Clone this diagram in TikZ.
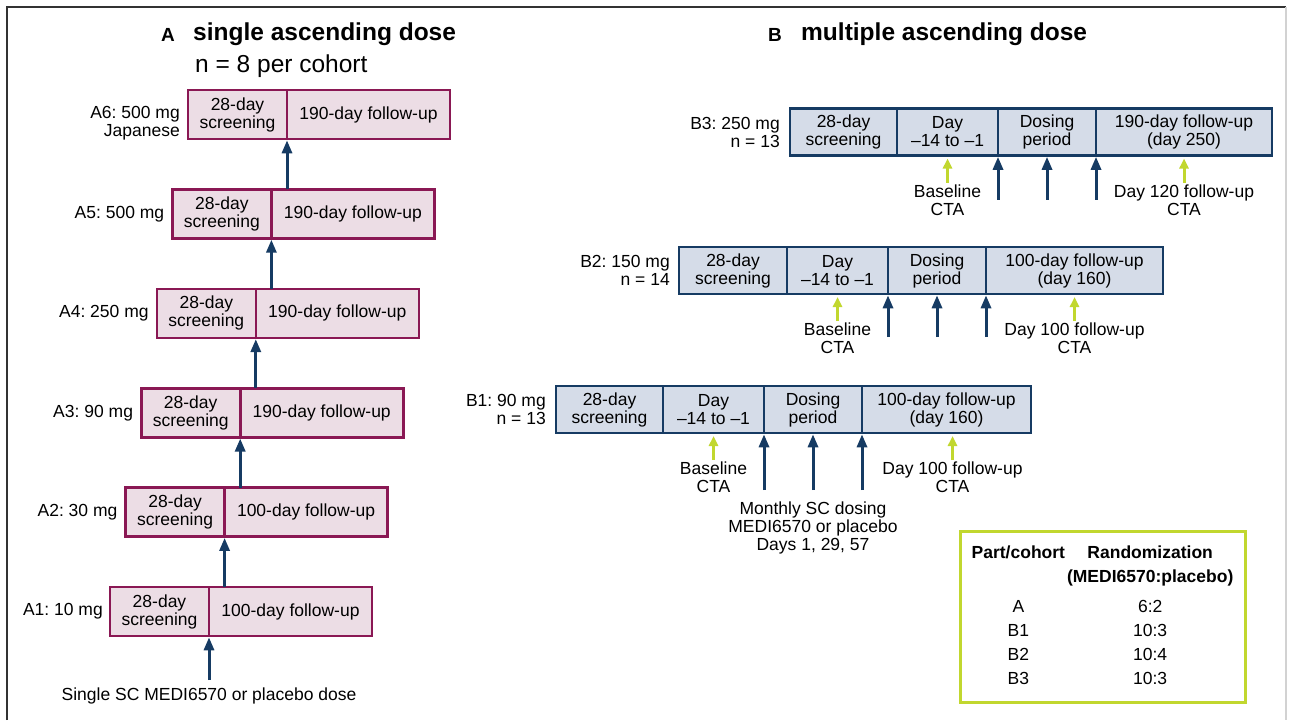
\documentclass[tikz,border=0pt]{standalone}
\usepackage{fontspec}
\setmainfont{Liberation Sans}
\usetikzlibrary{arrows.meta,positioning}
\frenchspacing

\definecolor{plum}{RGB}{138,24,84}
\definecolor{plumfill}{RGB}{236,221,229}
\definecolor{navy}{RGB}{22,59,99}
\definecolor{navyfill}{RGB}{213,220,232}
\definecolor{lime}{RGB}{193,215,47}
\definecolor{framegray}{RGB}{50,50,50}

\begin{document}
\begin{tikzpicture}[x=1pt, y=-1pt, font=\fontsize{17.5}{18}\selectfont,
  acell/.style={draw=plum, fill=plumfill, line width=2.6pt, minimum height=49pt, inner sep=0pt, outer sep=0pt, align=center},
  bcell/.style={draw=navy, fill=navyfill, line width=2.6pt, minimum height=47pt, inner sep=0pt, outer sep=0pt, align=center},
  lab/.style={align=right, inner sep=0pt},
  note/.style={align=center, inner sep=0pt},
  head/.style={anchor=base west, inner sep=0pt, font=\fontsize{24.5}{26}\selectfont\bfseries},
  dosearr/.style={draw=navy, line width=3pt, -{Triangle[width=10pt,length=13pt]}, shorten >=1.3pt},
  ctaarr/.style={draw=lime, line width=3pt, -{Triangle[width=9pt,length=10pt]}, shorten >=3pt, shorten <=2pt}]

  \useasboundingbox (0,0) rectangle (1289,720);

  % Frame
  \draw[framegray, line width=2pt] (7,720) -- (7,7) -- (1286,7);
  \draw[gray!35, line width=1.2pt] (1286,7) -- (1286,720);

  % Headings
  \node[head, font=\fontsize{19}{20}\selectfont\bfseries] (tagA) at (161,41) {A};
  \node[head] (titleA) at (193,40) {single ascending dose};
  \node[head, font=\fontsize{24.5}{26}\selectfont] (sizeA) at (195,72) {n = 8 per cohort};
  \node[head, font=\fontsize{19}{20}\selectfont\bfseries] (tagB) at (768,41) {B};
  \node[head] (titleB) at (801,40) {multiple ascending dose};

  % Part A cohorts
  \node[acell, minimum width=99pt] (a1s) at (159.5,611.5) {28-day\\screening};
  \node[acell, minimum width=163pt, right=0pt of a1s] (a1f) {100-day follow-up};
  \node[acell, minimum width=99pt, above=50.4pt of a1s, xshift=15.6pt] (a2s) {28-day\\screening};
  \node[acell, minimum width=163pt, right=0pt of a2s] (a2f) {100-day follow-up};
  \node[acell, minimum width=99pt, above=50.4pt of a2s, xshift=15.6pt] (a3s) {28-day\\screening};
  \node[acell, minimum width=163pt, right=0pt of a3s] (a3f) {190-day follow-up};
  \node[acell, minimum width=99pt, above=50.4pt of a3s, xshift=15.6pt] (a4s) {28-day\\screening};
  \node[acell, minimum width=163pt, right=0pt of a4s] (a4f) {190-day follow-up};
  \node[acell, minimum width=99pt, above=50.4pt of a4s, xshift=15.6pt] (a5s) {28-day\\screening};
  \node[acell, minimum width=163pt, right=0pt of a5s] (a5f) {190-day follow-up};
  \node[acell, minimum width=99pt, above=50.4pt of a5s, xshift=15.6pt] (a6s) {28-day\\screening};
  \node[acell, minimum width=163pt, right=0pt of a6s] (a6f) {190-day follow-up};

  \node[lab, left=7pt of a1s] (a1lab) {A1: 10 mg};
  \node[lab, left=8pt of a2s] (a2lab) {A2: 30 mg};
  \node[lab, left=8pt of a3s] (a3lab) {A3: 90 mg};
  \node[lab, left=8pt of a4s] (a4lab) {A4: 250 mg};
  \node[lab, left=8pt of a5s] (a5lab) {A5: 500 mg};
  \node[lab, left=8pt of a6s, yshift=-9pt] (a6lab) {A6: 500 mg\\Japanese};

  \node[note, below=52pt of a1s.south east] (dosetxt) {Single SC MEDI6570 or placebo dose};

  % Part A escalation
  \draw[dosearr] ([yshift=8pt]dosetxt.north -| a1s.south east) -- (a1s.south east);
  \draw[dosearr] (a2s.south east |- a1s.north) -- (a2s.south east);
  \draw[dosearr] (a3s.south east |- a2s.north) -- (a3s.south east);
  \draw[dosearr] (a4s.south east |- a3s.north) -- (a4s.south east);
  \draw[dosearr] (a5s.south east |- a4s.north) -- (a5s.south east);
  \draw[dosearr] (a6s.south east |- a5s.north) -- (a6s.south east);

  % Part B cohorts
  \node[bcell, minimum width=107pt] (b3s) at (843.5,132) {28-day\\screening};
  \node[bcell, minimum width=101pt, right=0pt of b3s] (b3d) {Day\\–14 to –1};
  \node[bcell, minimum width=98pt, right=0pt of b3d] (b3p) {Dosing\\period};
  \node[bcell, minimum width=176pt, right=0pt of b3p] (b3f) {190-day follow-up\\(day 250)};
  \node[lab, left=10pt of b3s] (b3lab) {B3: 250 mg\\n = 13};

  \node[bcell, minimum width=108pt] (b2s) at (733,270.5) {28-day\\screening};
  \node[bcell, minimum width=101pt, right=0pt of b2s] (b2d) {Day\\–14 to –1};
  \node[bcell, minimum width=98pt, right=0pt of b2d] (b2p) {Dosing\\period};
  \node[bcell, minimum width=177pt, right=0pt of b2p] (b2f) {100-day follow-up\\(day 160)};
  \node[lab, left=9pt of b2s] (b2lab) {B2: 150 mg\\n = 14};

  \node[bcell, minimum width=107pt] (b1s) at (609.5,409.5) {28-day\\screening};
  \node[bcell, minimum width=101pt, right=0pt of b1s] (b1d) {Day\\–14 to –1};
  \node[bcell, minimum width=98pt, right=0pt of b1d] (b1p) {Dosing\\period};
  \node[bcell, minimum width=169pt, right=0pt of b1p] (b1f) {100-day follow-up\\(day 160)};
  \node[lab, left=10pt of b1s] (b1lab) {B1: 90 mg\\n = 13};

  % CTA notes
  \node[note, below=29pt of b3d] (b3base) {Baseline\\CTA};
  \node[note, below=29pt of b3f] (b3late) {Day 120 follow-up\\CTA};
  \node[note, below=29pt of b2d] (b2base) {Baseline\\CTA};
  \node[note, below=29pt of b2f] (b2late) {Day 100 follow-up\\CTA};
  \node[note, below=29pt of b1d] (b1base) {Baseline\\CTA};
  \node[note, below=29pt of b1f, xshift=6pt] (b1late) {Day 100 follow-up\\CTA};
  \node[note, below=69pt of b1p] (montxt) {Monthly SC dosing\\MEDI6570 or placebo\\Days 1, 29, 57};

  \draw[ctaarr] (b3base) -- (b3d);
  \draw[ctaarr] (b3late) -- (b3late |- b3f.south);
  \draw[ctaarr] (b2base) -- (b2d);
  \draw[ctaarr] (b2late) -- (b2late |- b2f.south);
  \draw[ctaarr] (b1base) -- (b1d);
  \draw[ctaarr] (b1late) -- (b1late |- b1f.south);

  % Monthly doses
  \coordinate[below=44pt of b3d.south east] (b3k1);
  \coordinate[below=44pt of b3p.south] (b3k2);
  \coordinate[below=44pt of b3p.south east] (b3k3);
  \coordinate[below=43pt of b2d.south east] (b2k1);
  \coordinate[below=43pt of b2p.south] (b2k2);
  \coordinate[below=43pt of b2p.south east] (b2k3);
  \coordinate[below=57pt of b1d.south east] (b1k1);
  \coordinate[below=57pt of b1p.south] (b1k2);
  \coordinate[below=57pt of b1p.south east] (b1k3);

  \draw[dosearr] (b3k1) -- (b3d.south east);
  \draw[dosearr] (b3k2) -- (b3p.south);
  \draw[dosearr] (b3k3) -- (b3p.south east);
  \draw[dosearr] (b2k1) -- (b2d.south east);
  \draw[dosearr] (b2k2) -- (b2p.south);
  \draw[dosearr] (b2k3) -- (b2p.south east);
  \draw[dosearr] (b1k1) -- (b1d.south east);
  \draw[dosearr] (b1k2) -- (b1p.south);
  \draw[dosearr] (b1k3) -- (b1p.south east);

  % Randomization table
  \node[draw=lime, line width=3pt, minimum width=285pt, minimum height=171pt, inner sep=0pt,
        font=\fontsize{17.5}{24}\selectfont] (ratio) at (1102.5,617)
    {\begin{tabular}{@{}c@{\hspace{2pt}}c@{}}
       \bfseries Part/cohort & \bfseries Randomization\\
       & \bfseries (MEDI6570:placebo)\\[6pt]
       A & 6:2\\
       B1 & 10:3\\
       B2 & 10:4\\
       B3 & 10:3
     \end{tabular}};

\end{tikzpicture}
\end{document}
